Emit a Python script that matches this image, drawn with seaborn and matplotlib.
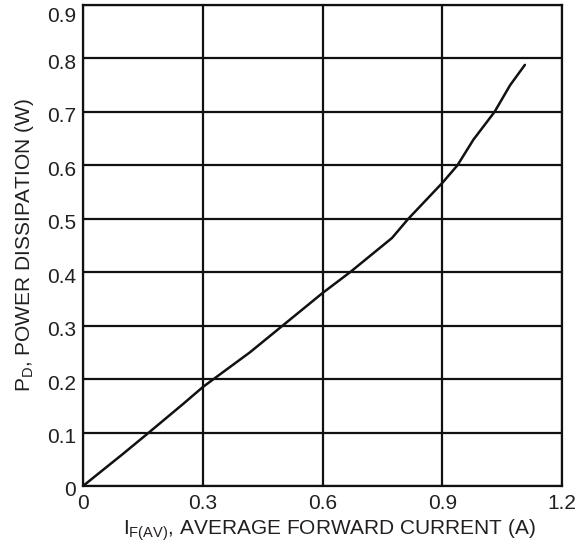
import pandas as pd
import matplotlib
matplotlib.use('Agg')
import matplotlib.pyplot as plt
import matplotlib.transforms as mtransforms
import seaborn as sns

# Power dissipation vs average forward current
current_a = [0.0, 0.05, 0.10, 0.165, 0.25, 0.30, 0.327, 0.418, 0.50, 0.60,
             0.669, 0.774, 0.815, 0.90, 0.938, 0.978, 1.031, 1.07, 1.107]
power_w = [0.0, 0.030, 0.060, 0.100, 0.153, 0.185, 0.200, 0.250, 0.300, 0.361,
           0.400, 0.464, 0.500, 0.567, 0.600, 0.648, 0.700, 0.750, 0.788]

x_ticks = [0, 0.3, 0.6, 0.9, 1.2]
x_tick_labels = ['0', '0.3', '0.6', '0.9', '1.2']
y_ticks = [0, 0.1, 0.2, 0.3, 0.4, 0.5, 0.6, 0.7, 0.8, 0.9]
y_tick_labels = ['0', '0.1', '0.2', '0.3', '0.4', '0.5', '0.6', '0.7', '0.8', '0.9']

df = pd.DataFrame({'I': current_a, 'P': power_w})

sns.set_style('white')
plt.rcParams['font.family'] = ['Liberation Sans', 'DejaVu Sans']
plt.rcParams['mathtext.default'] = 'regular'

text_color = '#231f20'

fig = plt.figure(figsize=(5.85, 5.5), dpi=100)
ax = fig.add_axes([0.1419, 0.1164, 0.8188, 0.8745])

sns.lineplot(data=df, x='I', y='P', color='#111111', linewidth=1.8, ax=ax)

ax.set_xlim(0, 1.2)
ax.set_ylim(0, 0.9)
ax.set_xticks(x_ticks)
ax.set_xticklabels(x_tick_labels)
ax.set_yticks(y_ticks)
ax.set_yticklabels(y_tick_labels)

ax.grid(True, color='#111111', linewidth=1.6)
ax.set_axisbelow(True)
for s in ax.spines.values():
    s.set_color('#111111')
    s.set_linewidth(1.6)
    s.set_visible(True)

ax.tick_params(axis='both', length=0, labelsize=15, labelcolor=text_color)
ax.tick_params(axis='x', pad=6)
ax.tick_params(axis='y', pad=5)

# labels sit a little below their gridlines, the top one pushed down to fit
for i, lab in enumerate(ax.get_yticklabels()):
    dy = -9 if i == len(y_ticks) - 1 else -3
    lab.set_transform(lab.get_transform() +
                      mtransforms.ScaledTranslation(0, dy / 100, fig.dpi_scale_trans))

ax.set_xlabel(r'I$_{F(AV)}$, AVERAGE FORWARD CURRENT (A)', fontsize=15,
              color=text_color, labelpad=3)
ax.xaxis.label.set_x(0.514)
ax.set_ylabel(r'P$_{D}$, POWER DISSIPATION (W)', fontsize=15,
              color=text_color, labelpad=8)

fig.savefig('out.png', dpi=100)
